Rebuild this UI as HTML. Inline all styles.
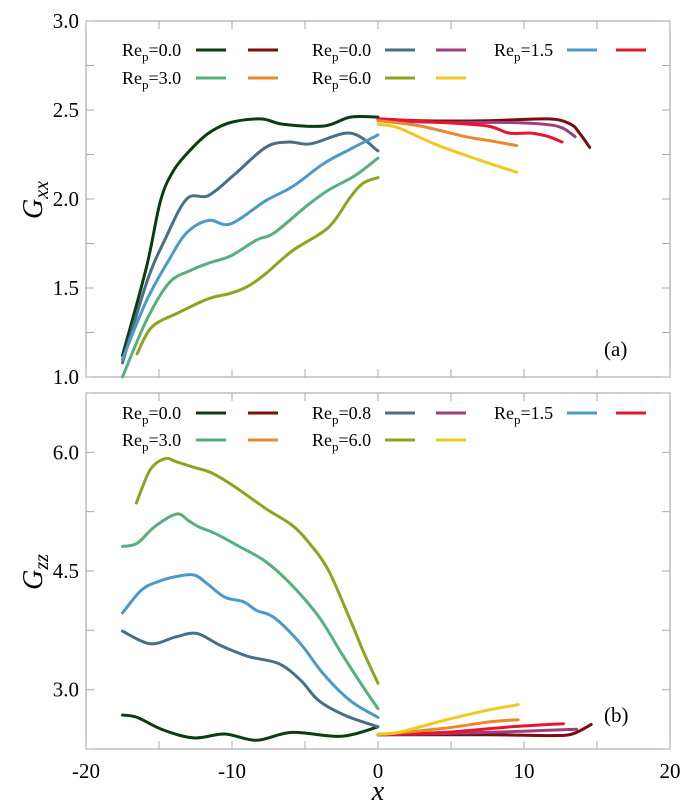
<!DOCTYPE html>
<html><head><meta charset="utf-8"><style>
body{margin:0;background:#fff;}
svg{display:block;font-family:"Liberation Serif",serif;}
</style></head><body>
<svg id="chart" width="694" height="810" viewBox="0 0 694 810" xmlns="http://www.w3.org/2000/svg"></svg>
<script>
// ---- data ----
const xTicks = [-20,-10,0,10,20];
const topTicks = [1.0,1.5,2.0,2.5,3.0];
const botTicks = [3.0,4.5,6.0];
const seriesNames = ["Re0 up","Re0 down","Re0.8 up","Re0.8 down","Re1.5 up","Re1.5 down","Re3 up","Re3 down","Re6 up","Re6 down"];
const colors = ["#0b3d13","#7a0c14","#4a6f82","#9c3f7a","#4a9ac8","#e8142c","#55b07e","#e8892c","#8aa620","#f0c81e"];
// Gxx (top)
const gxxRe0Up = [[-17.5,1.12],[-15.85,1.62],[-14.9,1.99],[-14,2.16],[-12.8,2.28],[-11.6,2.37],[-10.1,2.43],[-8,2.45],[-6.5,2.42],[-3.7,2.41],[-1.9,2.46],[0,2.46]];
const gxxRe08Up = [[-17.5,1.08],[-15.85,1.53],[-14.6,1.77],[-13.1,2.0],[-11.6,2.02],[-9.8,2.14],[-7.7,2.29],[-6.15,2.32],[-4.6,2.31],[-1.9,2.37],[0,2.27]];
const gxxRe15Up = [[-17.5,1.10],[-15.85,1.43],[-14.3,1.66],[-13.1,1.81],[-11.6,1.88],[-10.1,1.86],[-7.7,1.99],[-5.85,2.07],[-3.7,2.20],[-1.9,2.28],[0,2.36]];
const gxxRe3Up = [[-17.5,1.0],[-15.85,1.32],[-14.3,1.53],[-12.8,1.60],[-11.6,1.64],[-10.1,1.68],[-8.3,1.77],[-7.1,1.81],[-4.9,1.96],[-3.4,2.05],[-1.6,2.13],[0,2.23]];
const gxxRe6Up = [[-16.5,1.13],[-15.5,1.28],[-13.7,1.36],[-11.6,1.44],[-10.1,1.47],[-8.9,1.51],[-7.7,1.58],[-5.85,1.71],[-3.4,1.84],[-1.9,2.01],[-1,2.09],[0,2.12]];
const gxxRe0Down = [[0,2.45],[2.9,2.44],[7.5,2.44],[11.7,2.45],[13.2,2.42],[13.8,2.37],[14.5,2.29]];
const gxxRe08Down = [[0,2.44],[4.5,2.43],[9,2.43],[11.4,2.42],[12.6,2.40],[13.5,2.35]];
const gxxRe15Down = [[0,2.45],[4.45,2.43],[7.5,2.41],[9,2.37],[10.5,2.37],[11.7,2.35],[12.6,2.32]];
const gxxRe3Down = [[0,2.44],[2.9,2.41],[6,2.35],[7.5,2.33],[9.5,2.30]];
const gxxRe6Down = [[0,2.42],[1.4,2.40],[3.85,2.31],[6.9,2.22],[9.5,2.15]];
// Gzz (bottom)
const gzzRe0Up = [[-17.5,2.68],[-16.5,2.65],[-14.7,2.49],[-12.6,2.39],[-10.5,2.44],[-8.3,2.36],[-5.9,2.46],[-2.5,2.41],[0,2.53]];
const gzzRe08Up = [[-17.5,3.74],[-15.6,3.58],[-13.8,3.67],[-12.4,3.71],[-10.8,3.56],[-8.9,3.42],[-6.8,3.33],[-5.3,3.12],[-4.05,2.86],[-2.2,2.67],[0,2.53]];
const gzzRe15Up = [[-17.5,3.97],[-16.2,4.26],[-15,4.37],[-13.8,4.43],[-12.6,4.45],[-11.7,4.34],[-10.5,4.17],[-9.2,4.11],[-8.3,4.0],[-7.1,3.91],[-5.3,3.58],[-3.75,3.20],[-1.9,2.86],[0,2.65]];
const gzzRe3Up = [[-17.5,4.81],[-16.5,4.85],[-15.3,5.06],[-13.8,5.22],[-13,5.14],[-12.3,5.06],[-11.1,4.97],[-9.5,4.81],[-7.7,4.62],[-5.9,4.32],[-4.05,3.92],[-2.5,3.46],[-1,3.03],[0,2.76]];
const gzzRe6Up = [[-16.55,5.36],[-15.6,5.78],[-14.6,5.92],[-13.8,5.88],[-12.6,5.81],[-11.4,5.74],[-9.85,5.57],[-7.7,5.29],[-5.9,5.08],[-4.7,4.85],[-3.4,4.51],[-1.9,3.88],[-1,3.48],[0,3.08]];
const gzzRe0Down = [[0,2.43],[7.5,2.43],[11.8,2.42],[13.3,2.44],[14.6,2.56]];
const gzzRe08Down = [[0,2.43],[7.5,2.46],[13.6,2.50]];
const gzzRe15Down = [[0,2.43],[4.5,2.46],[9.1,2.53],[12.7,2.57]];
const gzzRe3Down = [[0,2.43],[4.5,2.51],[7.5,2.59],[9.6,2.62]];
const gzzRe6Down = [[0,2.44],[1.4,2.46],[4.5,2.61],[7.5,2.74],[9.6,2.81]];
const topSeries = [gxxRe0Up,gxxRe0Down,gxxRe08Up,gxxRe08Down,gxxRe15Up,gxxRe15Down,gxxRe3Up,gxxRe3Down,gxxRe6Up,gxxRe6Down];
const botSeries = [gzzRe0Up,gzzRe0Down,gzzRe08Up,gzzRe08Down,gzzRe15Up,gzzRe15Down,gzzRe3Up,gzzRe3Down,gzzRe6Up,gzzRe6Down];
const topLegend = ["0.0","3.0","0.0","6.0","1.5"];
const botLegend = ["0.0","3.0","0.8","6.0","1.5"];

const NS="http://www.w3.org/2000/svg";
const svg=document.getElementById('chart');
const L=86,R=670;
const xs=x=>L+(x+20)/40*(R-L);
const panels=[
 {top:21,bot:377,min:1.0,max:3.0,minor:0.25,ticks:topTicks,series:topSeries,legend:topLegend,legY:[50,78],label:"(a)",labY:356,title:"xx",titleY:200,name:"top"},
 {top:393,bot:749,min:2.25,max:6.75,minor:0.75,ticks:botTicks,series:botSeries,legend:botLegend,legY:[413,440],label:"(b)",labY:722,title:"zz",titleY:572,name:"bottom"}
];
function mk(tag,attrs,parent){const e=document.createElementNS(NS,tag);for(const k in attrs)e.setAttribute(k,attrs[k]);(parent||svg).appendChild(e);return e;}
function smooth(pts){let d="M"+pts[0][0]+","+pts[0][1];for(let i=0;i<pts.length-1;i++){const p0=pts[Math.max(0,i-1)],p1=pts[i],p2=pts[i+1],p3=pts[Math.min(pts.length-1,i+2)];const c1=[p1[0]+(p2[0]-p0[0])/6,p1[1]+(p2[1]-p0[1])/6],c2=[p2[0]-(p3[0]-p1[0])/6,p2[1]-(p3[1]-p1[1])/6];d+=" C"+c1[0].toFixed(1)+","+c1[1].toFixed(1)+" "+c2[0].toFixed(1)+","+c2[1].toFixed(1)+" "+p2[0].toFixed(1)+","+p2[1].toFixed(1);}return d;}
panels.forEach((P,pi)=>{
 const ys=v=>P.bot-(v-P.min)/(P.max-P.min)*(P.bot-P.top);
 const g=mk('g',{});
 
 
 const fr=mk('rect',{x:L,y:P.top,width:R-L,height:P.bot-P.top,fill:'none',stroke:'#999','stroke-width':1},g);
 
 
 for(let x=-20;x<=20;x+=5){const X=xs(x);mk('line',{x1:X,x2:X,y1:P.bot,y2:P.bot-8,stroke:'#aaa'},g);mk('line',{x1:X,x2:X,y1:P.top,y2:P.top+8,stroke:'#aaa'},g);}
 for(let v=P.min;v<=P.max+1e-6;v+=P.minor){const Y=ys(v);mk('line',{x1:L,x2:L+8,y1:Y,y2:Y,stroke:'#aaa'},g);mk('line',{x1:R,x2:R-8,y1:Y,y2:Y,stroke:'#aaa'},g);}
 P.ticks.forEach(t=>{const e=mk('text',{x:L-7,y:ys(t)+7,'text-anchor':'end','font-size':21},g);e.textContent=t.toFixed(1);
  
  });
 const tt=mk('text',{transform:`translate(42,${P.titleY}) rotate(-90)`,'text-anchor':'middle','font-size':28,'font-style':'italic'},g);
 tt.innerHTML='G<tspan font-size="20" dy="6">'+P.title+'</tspan>';
 
 
 P.series.forEach((s,i)=>{const p=mk('path',{d:smooth(s.map(q=>[xs(q[0]),ys(q[1])])),fill:'none',stroke:colors[i],'stroke-width':3,'stroke-linecap':'round'},g);
  
  });
 // legend
 const groups=[[0,0,0],[0,1,6],[1,0,2],[1,1,8],[2,0,4]];
 const gx=[[122,196,248],[312,385,436],[494,567,616]];
 groups.forEach((gg,k)=>{const [c,r,si]=gg;const Y=P.legY[r];
  const t=mk('text',{x:gx[c][0],y:Y+6,'font-size':18},g);t.innerHTML='Re<tspan font-size="13" dy="5">p</tspan><tspan dy="-5">='+P.legend[k]+'</tspan>';
  
  
  mk('line',{x1:gx[c][1],x2:gx[c][1]+30,y1:Y,y2:Y,stroke:colors[si],'stroke-width':3},g);
  mk('line',{x1:gx[c][2],x2:gx[c][2]+30,y1:Y,y2:Y,stroke:colors[si+1],'stroke-width':3},g);});
 const lab=mk('text',{x:604,y:P.labY,'font-size':21},g);lab.textContent=P.label;
 
 
});
xTicks.forEach(t=>{const e=mk('text',{x:xs(t),y:778,'text-anchor':'middle','font-size':21});e.textContent=t;
 
 });
const xt=mk('text',{x:378,y:800,'text-anchor':'middle','font-size':28,'font-style':'italic'});xt.textContent='x';


</script>
</body></html>
